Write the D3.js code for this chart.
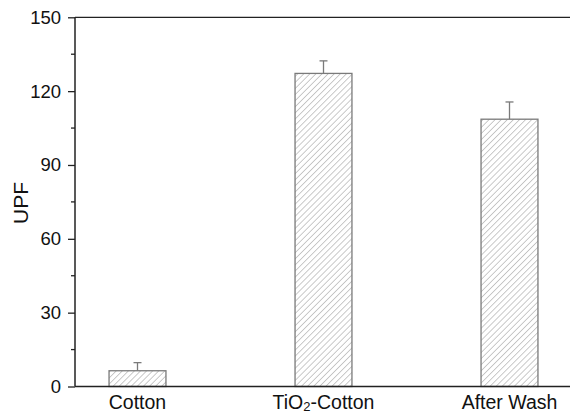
<!DOCTYPE html>
<html>
<head>
<meta charset="utf-8">
<script src="https://cdn.jsdelivr.net/npm/d3@7"></script>
<style>
    body { margin: 0; background: #fff; }
    svg { display: block; font-family: "Liberation Sans", Arial, sans-serif; }
</style>
</head>
<body>
<div id="chart"></div>
<script>
const WIDTH = 570;
const HEIGHT = 413;

// data
const categories = ["Cotton", "TiO2-Cotton", "After Wash"];
const upf = [6.4, 127.2, 108.6];
const upfErr = [3.3, 5.1, 7.0];
const yTicks = [0, 30, 60, 90, 120, 150];
const yMinorTicks = [15, 45, 75, 105, 135];

const data = categories.map((c, i) => ({key: c, value: upf[i], err: upfErr[i]}));

const plotLeft = 75, plotRight = 570, plotTop = 17.3, plotBottom = 386.5;

const svg = d3.select("#chart").append("svg")
    .attr("width", WIDTH)
    .attr("height", HEIGHT);

const defs = svg.append("defs");
const pat = defs.append("pattern")
    .attr("id", "hatch")
    .attr("patternUnits", "userSpaceOnUse")
    .attr("width", 4.3)
    .attr("height", 4.3)
    .attr("patternTransform", "rotate(45)");
pat.append("line")
    .attr("x1", 0).attr("y1", -1)
    .attr("x2", 0).attr("y2", 6)
    .attr("stroke", "#888")
    .attr("stroke-width", 0.9);

const x = d3.scaleBand()
    .domain(categories)
    .range([44.5, 602.5])
    .paddingInner(0.694)
    .paddingOuter(0.347);

const y = d3.scaleLinear()
    .domain([0, 150])
    .range([plotBottom, plotTop]);

// bars
svg.append("g").selectAll("rect")
    .data(data)
    .enter().append("rect")
    .attr("x", d => x(d.key))
    .attr("y", d => y(d.value))
    .attr("width", x.bandwidth())
    .attr("height", d => y(0) - y(d.value))
    .attr("fill", "url(#hatch)")
    .attr("stroke", "#7a7a7a")
    .attr("stroke-width", 1.3);

// error bars (upper only)
const eb = svg.append("g").attr("stroke", "#7a7a7a").attr("stroke-width", 1.3);
eb.selectAll("line.v")
    .data(data)
    .enter().append("line")
    .attr("class", "v")
    .attr("x1", d => x(d.key) + x.bandwidth() / 2)
    .attr("x2", d => x(d.key) + x.bandwidth() / 2)
    .attr("y1", d => y(d.value))
    .attr("y2", d => y(d.value + d.err));
eb.selectAll("line.c")
    .data(data)
    .enter().append("line")
    .attr("class", "c")
    .attr("x1", d => x(d.key) + x.bandwidth() / 2 - 4)
    .attr("x2", d => x(d.key) + x.bandwidth() / 2 + 4)
    .attr("y1", d => y(d.value + d.err))
    .attr("y2", d => y(d.value + d.err));

// left axis
const yAxis = svg.append("g")
    .attr("transform", "translate(" + plotLeft + ",0)")
    .call(d3.axisLeft(y).tickValues(yTicks).tickSize(7).tickPadding(7));
yAxis.select(".domain").remove();
yAxis.selectAll(".tick line").attr("stroke", "#222").attr("stroke-width", 1.3);
yAxis.selectAll(".tick text")
    .attr("fill", "#111")
    .style("font-size", "18.5px");

svg.append("g").selectAll("line")
    .data(yMinorTicks)
    .enter().append("line")
    .attr("x1", plotLeft - 4).attr("x2", plotLeft)
    .attr("y1", d => y(d)).attr("y2", d => y(d))
    .attr("stroke", "#222").attr("stroke-width", 1.3);

// frame lines
svg.append("line")
    .attr("x1", plotLeft).attr("x2", plotLeft)
    .attr("y1", plotTop).attr("y2", plotBottom)
    .attr("stroke", "#222").attr("stroke-width", 1.5);
svg.append("line")
    .attr("x1", plotLeft).attr("x2", plotRight)
    .attr("y1", plotTop).attr("y2", plotTop)
    .attr("stroke", "#222").attr("stroke-width", 1.3);
svg.append("line")
    .attr("x1", plotLeft).attr("x2", plotRight)
    .attr("y1", plotBottom).attr("y2", plotBottom)
    .attr("stroke", "#222").attr("stroke-width", 1.3);

// category labels
const labels = svg.append("g").selectAll("text")
    .data(categories)
    .enter().append("text")
    .attr("x", d => x(d) + x.bandwidth() / 2)
    .attr("y", 409)
    .attr("text-anchor", "middle")
    .attr("fill", "#111")
    .style("font-size", "19.5px");

labels.each(function(d) {
    const t = d3.select(this);
    if (d.indexOf("TiO2") === 0) {
        t.append("tspan").text("TiO");
        t.append("tspan").text("2").style("font-size", "13px").attr("dy", 1.5);
        t.append("tspan").text(d.slice(4)).attr("dy", -1.5);
    } else {
        t.text(d);
    }
});

// y title
svg.append("text")
    .attr("transform", "translate(" + 28 + "," + 203 + ") rotate(-90)")
    .attr("text-anchor", "middle")
    .attr("fill", "#111")
    .style("font-size", "21px")
    .text("UPF");
</script>
</body>
</html>
